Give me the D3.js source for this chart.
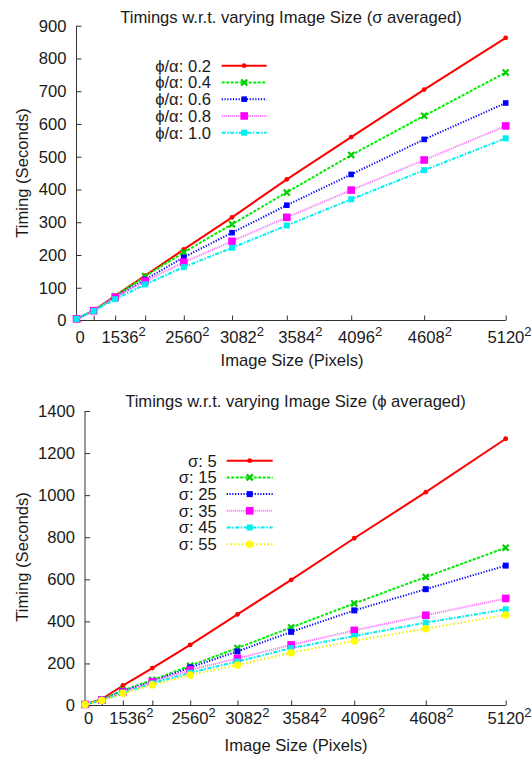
<!DOCTYPE html>
<html><head><meta charset="utf-8">
<script src="https://cdn.jsdelivr.net/npm/d3@7"></script>
<style>
body{margin:0;background:#fff}
svg text{font-family:"Liberation Sans",Arial,sans-serif;fill:#1a1a1a;font-size:16.6px}
</style>
</head><body><svg id="c" width="532" height="757"></svg>
<script>
// ---------- data ----------
const imageSides = [0, 1024, 1536, 2048, 2560, 3082, 3584, 4096, 4608, 5120];
const labeledSides = [0, 1536, 2560, 3082, 3584, 4096, 4608, 5120];

const topTitle = "Timings w.r.t. varying Image Size (σ averaged)";
const topNames = ["ϕ/α: 0.2", "ϕ/α: 0.4", "ϕ/α: 0.6", "ϕ/α: 0.8", "ϕ/α: 1.0"];
const topA02 = [5, 30, 75, 137, 217, 315, 431, 560, 705, 863];
const topA04 = [5, 30, 74, 135, 208, 294, 391, 505, 625, 757];
const topA06 = [5, 30, 71, 125, 193, 268, 352, 446, 553, 664];
const topA08 = [5, 30, 71, 120, 178, 242, 315, 398, 490, 594];
const topA10 = [5, 29, 65, 110, 163, 222, 290, 370, 459, 556];
const topYTicks = [0, 100, 200, 300, 400, 500, 600, 700, 800, 900];

const botTitle = "Timings w.r.t. varying Image Size (ϕ averaged)";
const botNames = ["σ: 5", "σ: 15", "σ: 25", "σ: 35", "σ: 45", "σ: 55"];
const botS5  = [5, 30, 95, 178, 288, 433, 597, 795, 1014, 1268];
const botS15 = [5, 28, 72, 121, 189, 273, 371, 485, 611, 750];
const botS25 = [5, 27, 68, 115, 181, 257, 350, 452, 553, 665];
const botS35 = [5, 26, 63, 113, 169, 224, 288, 357, 429, 509];
const botS45 = [5, 25, 60, 105, 156, 209, 273, 330, 394, 457];
const botS55 = [5, 24, 58, 98, 145, 192, 251, 307, 365, 430];
const botYTicks = [0, 200, 400, 600, 800, 1000, 1200, 1400];

const xTitle = "Image Size (Pixels)";
const yTitle = "Timing (Seconds)";

// small horizontal nudges of the tick labels (as rendered in the original)
const labelNudge = {0:3.6, 1536:8.5, 2560:3.5, 3082:10, 3584:13.5, 4096:9, 4608:5.7, 5120:3.8};

// ---------- styles ----------
const styles = [
  {line:"#ff0000", dash:null, mk:"circle", ms:2.4, mc:"#ff0000"},
  {line:"#00ee00", dash:"3,1.5", mk:"cross", ms:3, mc:"#00cc00"},
  {line:"#0000ff", dash:"1.2,1.6", mk:"square", ms:2.8, mc:"#0000ff"},
  {line:"#ff80ff", dash:"1.2,0.8", mk:"square", ms:3.8, mc:"#ff00ff"},
  {line:"#00eeee", dash:"4,1.5,1.5,1.5", mk:"square", ms:3, mc:"#00eeee"},
  {line:"#f0f000", dash:"1.5,2.2", mk:"circle", ms:3.8, mc:"#ffff00"}
];
const stylesBot = [
  styles[0], styles[1],
  {line:"#0000ff", dash:"1.2,1.6", mk:"square", ms:3, mc:"#0000ff"},
  styles[3], styles[4], styles[5]
];

const svg = d3.select("#c");

function marker(g, x, y, st){
  if(st.mk === "circle"){
    g.append("circle").attr("cx",x).attr("cy",y).attr("r",st.ms).attr("fill",st.mc);
  } else if(st.mk === "square"){
    g.append("rect").attr("x",x-st.ms).attr("y",y-st.ms).attr("width",2*st.ms).attr("height",2*st.ms).attr("fill",st.mc);
  } else {
    const s = st.ms;
    g.append("path").attr("d",`M${x-s},${y-s}L${x+s},${y+s}M${x-s},${y+s}L${x+s},${y-s}`)
      .attr("stroke",st.mc).attr("stroke-width",2.2).attr("fill","none");
  }
}

function chart(cfg){
  const g = svg.append("g");
  const x = d3.scaleLinear().domain([0, 5120*5120]).range([cfg.left, cfg.right]);
  const y = d3.scaleLinear().domain([0, cfg.yMax]).range([cfg.bottom, cfg.top]);

  // y axis (ticks inward)
  const ya = d3.axisRight(y).tickValues(cfg.yTicks).tickSize(5).tickFormat("");
  const yg = g.append("g").attr("transform",`translate(${cfg.left},0)`).call(ya);
  yg.select(".domain").attr("d",`M0,${cfg.top}V${cfg.bottom}`);
  yg.selectAll("line,path").attr("stroke","#333");
  g.selectAll(".ytl").data(cfg.yTicks).enter().append("text")
    .attr("x", cfg.left-10).attr("y", d=>y(d)).attr("dy","0.36em")
    .attr("text-anchor","end").text(d=>d);

  // x axis (ticks inward)
  const xa = d3.axisTop(x).tickValues(imageSides.map(s=>s*s)).tickSize(5).tickFormat("");
  const xg = g.append("g").attr("transform",`translate(0,${cfg.bottom})`).call(xa);
  xg.select(".domain").attr("d",`M${cfg.left},0H${cfg.right}`);
  xg.selectAll("line,path").attr("stroke","#333");
  labeledSides.forEach(s=>{
    const t = g.append("text").attr("x", x(s*s) + labelNudge[s]).attr("y", cfg.bottom + cfg.tickLabelDy)
      .attr("text-anchor","middle");
    if(s===0){ t.text("0"); }
    else {
      t.append("tspan").text(String(s));
      t.append("tspan").attr("dy",-7).attr("font-size","13px").text("2");
    }
  });

  // titles
  g.append("text").attr("x",cfg.titleX).attr("y",cfg.titleY).attr("text-anchor","middle").text(cfg.title);
  g.append("text").attr("x",cfg.xTitleX).attr("y",cfg.bottom+cfg.xTitleDy).attr("text-anchor","middle").text(xTitle);
  g.append("text").attr("transform",`translate(${cfg.yTitleX},${cfg.yTitleY}) rotate(-90)`)
    .attr("text-anchor","middle").attr("dy","0.36em").text(yTitle);

  // series
  const line = d3.line().x((d,i)=>x(imageSides[i]*imageSides[i])).y(d=>y(d));
  cfg.series.forEach((vals,k)=>{
    const st = cfg.styles[k];
    const p = g.append("path").datum(vals).attr("d",line).attr("fill","none")
      .attr("stroke",st.line).attr("stroke-width",2);
    if(st.dash) p.attr("stroke-dasharray",st.dash);
    vals.forEach((v,i)=>marker(g, x(imageSides[i]*imageSides[i]), y(v), st));
  });

  // legend
  cfg.names.forEach((n,k)=>{
    const st = cfg.styles[k];
    const ly = cfg.legY + k*cfg.legDy;
    g.append("text").attr("x",cfg.legTextRight).attr("y",ly).attr("dy","0.36em")
      .attr("text-anchor","end").text(n);
    const l = g.append("line").attr("x1",cfg.legX1).attr("x2",cfg.legX2).attr("y1",ly).attr("y2",ly)
      .attr("stroke",st.line).attr("stroke-width",2);
    if(st.dash) l.attr("stroke-dasharray",st.dash);
    marker(g, (cfg.legX1+cfg.legX2)/2, ly, st);
  });
}

chart({
  left:76.5, right:505.7, top:25.7, bottom:320.5, yMax:900, yTicks:topYTicks,
  tickLabelDy:22, xTitleDy:45, xTitleX:292, title:topTitle, titleX:291, titleY:22.5,
  yTitleX:22, yTitleY:173,
  series:[topA02, topA04, topA06, topA08, topA10], names:topNames, styles:styles.slice(0,5),
  legY:65.7, legDy:16.75, legTextRight:211, legX1:221.7, legX2:266.7
});

chart({
  left:85, right:505.7, top:411, bottom:705.5, yMax:1400, yTicks:botYTicks,
  tickLabelDy:18.5, xTitleDy:45, xTitleX:296, title:botTitle, titleX:295.5, titleY:407.3,
  yTitleX:22, yTitleY:557,
  series:[botS5, botS15, botS25, botS35, botS45, botS55], names:botNames, styles:stylesBot,
  legY:460.7, legDy:16.7, legTextRight:216.7, legX1:226.7, legX2:272.7
});
</script>
</body></html>
